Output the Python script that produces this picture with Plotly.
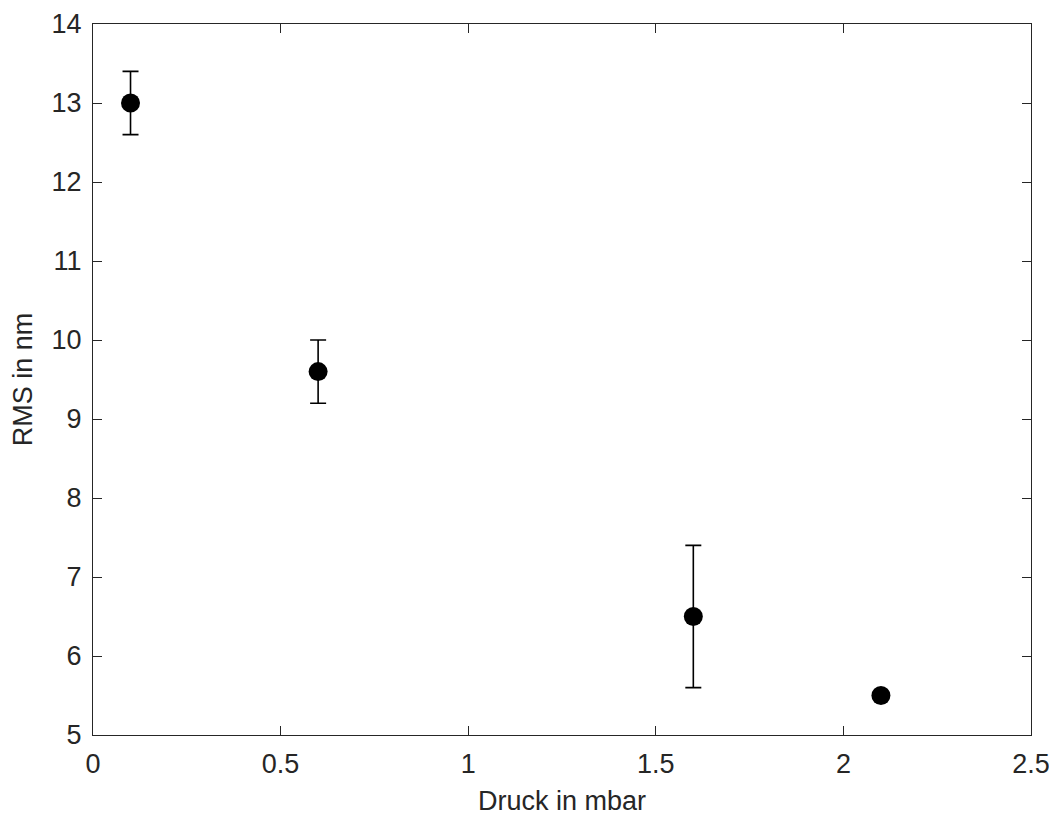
import plotly.graph_objects as go

druck = [0.1, 0.6, 1.6, 2.1]
rms = [13.0, 9.6, 6.5, 5.5]
rms_err = [0.4, 0.4, 0.9, 0.05]

x_ticks = [0, 0.5, 1, 1.5, 2, 2.5]
x_ticklabels = ["0", "0.5", "1", "1.5", "2", "2.5"]
y_ticks = [5, 6, 7, 8, 9, 10, 11, 12, 13, 14]

dark = "#262626"
font_family = "Liberation Sans, Arial, sans-serif"

fig = go.Figure()
fig.add_trace(go.Scatter(
    x=druck, y=rms, mode="markers",
    marker=dict(color="black", size=19, symbol="circle"),
    error_y=dict(type="data", array=rms_err, visible=True,
                 color="black", thickness=1.6, width=8),
    showlegend=False,
))

axis_common = dict(
    showline=True, linecolor=dark, linewidth=1.3, mirror="ticks",
    ticks="inside", ticklen=9, tickwidth=1.3, tickcolor=dark,
    showgrid=False, zeroline=False, automargin=False,
    tickfont=dict(family=font_family, size=27, color=dark),
)

# the page body adds an 8px offset, so the figure is 8px smaller than the window
fig.update_layout(
    width=1049, height=808,
    margin=dict(l=85, r=26, t=16, b=81),
    paper_bgcolor="white", plot_bgcolor="white",
    font=dict(family=font_family, color=dark),
    xaxis=dict(range=[0, 2.5], tickvals=x_ticks, ticktext=x_ticklabels,
               ticklabelstandoff=4,
               title=dict(text="Druck in mbar", font=dict(size=27, color=dark), standoff=14),
               **axis_common),
    yaxis=dict(range=[5, 14], tickvals=y_ticks,
               ticklabelstandoff=5,
               title=dict(text="RMS in nm", font=dict(size=27, color=dark), standoff=12),
               **axis_common),
)

fig.write_html("out.html")
